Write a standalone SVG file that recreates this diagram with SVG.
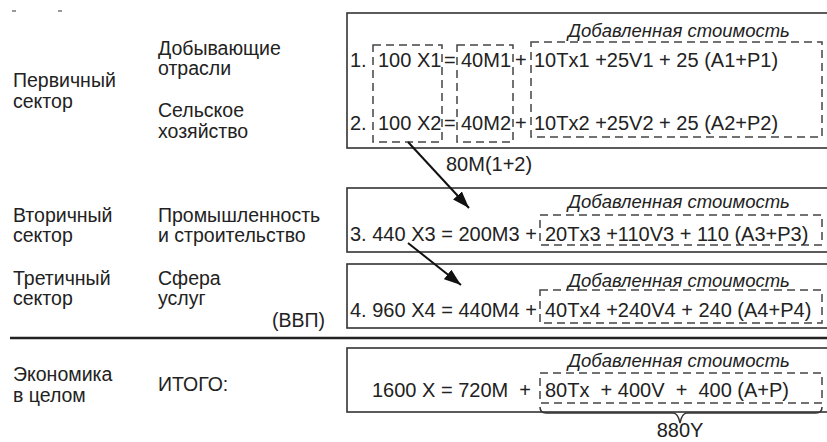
<svg xmlns="http://www.w3.org/2000/svg" width="827" height="442" viewBox="0 0 827 442">
<defs>
<style>
text{font-family:"Liberation Sans",Arial,sans-serif;fill:#222;}
.lb{font-size:19.5px;}
.eq{font-size:20px;}
.it{font-size:18.5px;font-style:italic;}
.box{fill:none;stroke:#333;stroke-width:1.6;}
.dash{fill:none;stroke:#444;stroke-width:1.5;stroke-dasharray:8 5;}
.conn{stroke:#111;stroke-width:2;fill:none;}
</style>
<marker id="ah2" viewBox="0 0 10 10" refX="10" refY="5" markerWidth="17" markerHeight="12" orient="auto" markerUnits="userSpaceOnUse" preserveAspectRatio="none">
<path d="M0,0 L10,5 L0,10 z" fill="#111"/>
</marker>
</defs>
<rect width="827" height="442" fill="#fff"/>
<line x1="12" y1="11" x2="16" y2="11" stroke="#555" stroke-width="1.2"/>
<line x1="58" y1="11" x2="62" y2="11" stroke="#555" stroke-width="1.2"/>

<g id="labels">
<text class="lb" x="13" y="87">Первичный</text>
<text class="lb" x="13" y="108">сектор</text>
<text class="lb" x="158" y="55">Добывающие</text>
<text class="lb" x="158" y="75">отрасли</text>
<text class="lb" x="158" y="117">Сельское</text>
<text class="lb" x="158" y="138">хозяйство</text>
<text class="lb" x="13" y="222">Вторичный</text>
<text class="lb" x="13" y="242">сектор</text>
<text class="lb" x="158" y="222">Промышленность</text>
<text class="lb" x="158" y="242">и строительство</text>
<text class="lb" x="13" y="285">Третичный</text>
<text class="lb" x="13" y="305">сектор</text>
<text class="lb" x="158" y="285">Сфера</text>
<text class="lb" x="158" y="305">услуг</text>
<text class="lb" x="272" y="327">(ВВП)</text>
<text class="lb" x="13" y="381">Экономика</text>
<text class="lb" x="13" y="402">в целом</text>
<text class="lb" x="158" y="391">ИТОГО:</text>
</g>

<line x1="10" y1="338" x2="827" y2="338" stroke="#222" stroke-width="2.4"/>

<g id="box1">
<rect class="box" x="347" y="13" width="500" height="135"/>
<text class="it" x="568" y="37">Добавленная стоимость</text>
<rect class="dash" x="373" y="45" width="69" height="97"/>
<rect class="dash" x="457" y="45" width="56" height="97"/>
<rect class="dash" x="531" y="42" width="291" height="95"/>
<text class="eq" x="350" y="67">1.</text>
<text class="eq" x="378" y="67">100 X1</text>
<text class="eq" x="444" y="67">=</text>
<text class="eq" x="461" y="67">40M1</text>
<text class="eq" x="515" y="67">+</text>
<text class="eq" x="534" y="67">10Tx1 +25V1 + 25 (A1+P1)</text>
<text class="eq" x="350" y="130">2.</text>
<text class="eq" x="378" y="130">100 X2</text>
<text class="eq" x="444" y="130">=</text>
<text class="eq" x="461" y="130">40M2</text>
<text class="eq" x="515" y="130">+</text>
<text class="eq" x="534" y="130">10Tx2 +25V2 + 25 (A2+P2)</text>
</g>
<text id="m12" class="eq" x="446" y="171">80M(1+2)</text>

<g id="box3">
<rect class="box" x="347" y="188" width="500" height="64"/>
<text class="it" x="568" y="208">Добавленная стоимость</text>
<rect class="dash" x="540" y="215" width="282" height="30"/>
<text class="eq" x="350" y="241">3. 440 X3 = 200M3 +</text>
<text class="eq" x="545" y="241">20Tx3 +110V3 + 110 (A3+P3)</text>
</g>

<g id="box4">
<rect class="box" x="347" y="264" width="500" height="64"/>
<text class="it" x="568" y="287">Добавленная стоимость</text>
<rect class="dash" x="540" y="290" width="282" height="33"/>
<text class="eq" x="350" y="317">4. 960 X4 = 440M4 +</text>
<text class="eq" x="545" y="317">40Tx4 +240V4 + 240 (A4+P4)</text>
</g>

<g id="box5">
<rect class="box" x="347" y="348" width="500" height="64"/>
<text class="it" x="568" y="367">Добавленная стоимость</text>
<rect class="dash" x="540" y="373" width="282" height="30"/>
<text class="eq" x="372" y="397" xml:space="preserve">1600 X = 720M  +</text>
<text class="eq" x="545" y="397" xml:space="preserve">80Tx  + 400V  +  400 (A+P)</text>
</g>

<g id="brace">
<path d="M540,407 Q540,413 546,413 L673,413 Q678,413 680,423 Q682,413 687,413 L816,413 Q822,413 822,407" fill="none" stroke="#333" stroke-width="1.5"/>
<text class="eq" x="680" y="437" text-anchor="middle">880Y</text>
</g>

<g id="connectors">
<line class="conn" x1="408" y1="142" x2="469" y2="208" marker-end="url(#ah2)"/>
<line class="conn" x1="408" y1="243" x2="461" y2="285" marker-end="url(#ah2)"/>
</g>
</svg>
